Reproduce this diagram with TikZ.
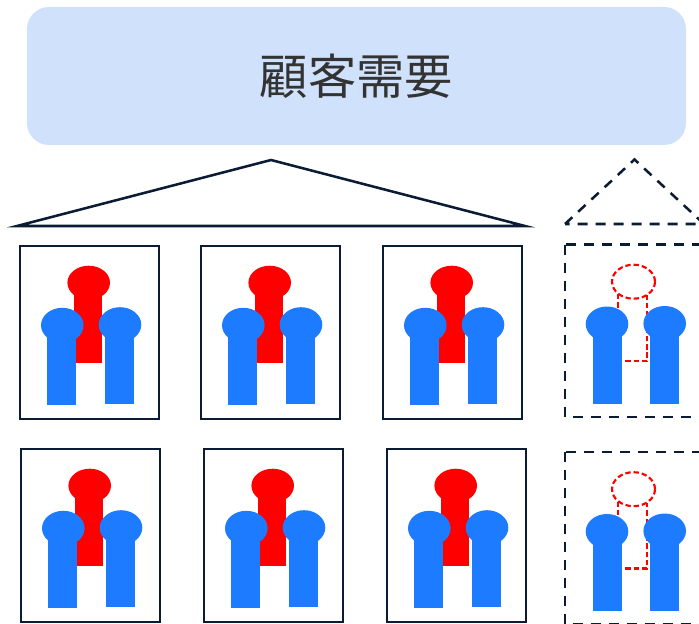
\documentclass[tikz,border=0pt]{standalone}
\usepackage{fontspec}
\newfontfamily\cjk{Noto Sans CJK JP}
\definecolor{demandfill}{HTML}{D0E2FB}
\definecolor{framecolor}{HTML}{0B1B33}
\definecolor{bodyblue}{HTML}{1C7BFE}
\definecolor{bodyred}{HTML}{FF0000}
\tikzset{
  frameline/.style={draw=framecolor, line width=1.9pt},
  framedash/.style={frameline, dash pattern=on 7.5pt off 6pt},
  missingline/.style={draw=bodyred, line width=1.6pt, dash pattern=on 4pt off 2.2pt}
}
% one of the two blue figures
\newcommand{\bluefigure}[4]{
  \fill [bodyblue] (#1, #2) ellipse [x radius=21.3, y radius=17.5];
  \fill [bodyblue] (#3, #2) rectangle (#3 + 28.5, #4);
}
\begin{document}
\begin{tikzpicture}[x=0.75pt, y=-0.75pt]
    \useasboundingbox (0, 0) rectangle (699, 624);

    % Demand
    \node [fill=demandfill, rounded corners=16.5pt, minimum width=494.25pt, minimum height=103.5pt,
           inner sep=0pt, text=black!80, font=\cjk\fontsize{36.2pt}{40pt}\selectfont]
          (demand) at (356.5, 76) {顧客需要};

    % Roofs
    \draw [frameline, miter limit=20] (17, 226) -- (271, 160) -- (525, 226) -- cycle;
    \draw [framedash] (565, 224) -- (634.5, 159.5) -- (704, 224) -- cycle;

    % Staffed units
    \foreach \unitx/\unity in {20/246, 201/246, 383/246, 21/449, 204/449, 387/449} {
      \begin{scope}[shift={(\unitx, \unity)}]
        \draw [frameline] (0, 0) rectangle (139, 173);
        \fill [bodyred] (68.7, 36.7) ellipse [x radius=21.3, y radius=17];
        \fill [bodyred] (54, 40) rectangle (82, 116.7);
        \bluefigure{42.3}{79.3}{27}{158.7}
        \bluefigure{100}{78.7}{85}{158}
      \end{scope}
    }

    % Unit with the empty place
    \foreach \unitx/\unity in {565/244.5, 565/452} {
      \begin{scope}[shift={(\unitx, \unity)}]
        \draw [framedash] (0, 0) rectangle (139, 172.5);
        \draw [missingline] (68.5, 37.2) ellipse [x radius=21.5, y radius=17];
        \draw [missingline] (53, 49.5) -- (53, 116.5) -- (82, 116.5) -- (82, 50.5);
        \bluefigure{42}{79.5}{28}{159}
        \bluefigure{99.7}{79}{85}{159}
      \end{scope}
    }
  \end{tikzpicture}
\end{document}
